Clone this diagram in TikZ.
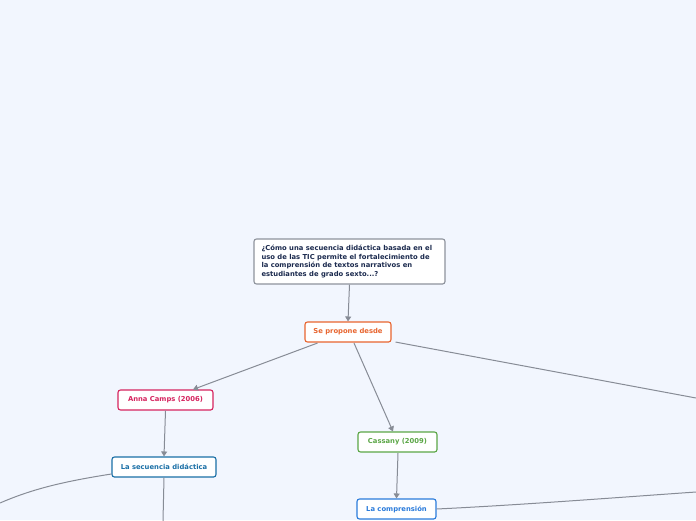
\documentclass[tikz,border=0pt]{standalone}
\usepackage{fontspec}
\setmainfont{DejaVu Sans}
\usetikzlibrary{arrows.meta,calc}
\definecolor{bg}{HTML}{F2F6FE}
\definecolor{edge}{HTML}{878C96}
\definecolor{qborder}{HTML}{8E939C}
\definecolor{qtext}{HTML}{1B2A4E}
\definecolor{orangec}{HTML}{E8652F}
\definecolor{pinkc}{HTML}{D6245F}
\definecolor{blueA}{HTML}{1A6FA6}
\definecolor{greenc}{HTML}{5BA646}
\definecolor{blueB}{HTML}{2A7BDB}
\tikzset{
  box/.style={draw, rounded corners=2.5pt, fill=white, line width=1.1pt, inner sep=0pt,
    font=\bfseries\fontsize{6.8}{8}\selectfont, minimum height=20pt},
  conn/.style={draw=edge, line width=1pt},
  arr/.style={conn, -{Triangle[width=6pt,length=5pt]}},
}
\begin{document}
\begin{tikzpicture}[x=1pt,y=-1pt]
\useasboundingbox[fill=bg] (0,0) rectangle (696,520);
\node[box, draw=qborder, text=qtext, minimum width=191pt, minimum height=45pt, align=left,
  font=\bfseries\fontsize{6.8}{8.6}\selectfont] (q) at (349.5,261.5)
  {\parbox{176pt}{¿Cómo una secuencia didáctica basada en el\\uso de las TIC permite el fortalecimiento de\\la comprensión de textos narrativos en\\estudiantes de grado sexto...?}};
\node[box, draw=orangec, text=orangec, minimum width=86pt] (se) at (348,332) {Se propone desde};
\node[box, draw=pinkc, text=pinkc, minimum width=95pt] (anna) at (165.5,400) {Anna Camps (2006)};
\node[box, draw=blueA, text=blueA, minimum width=104pt] (sec) at (164,467) {La secuencia didáctica};
\node[box, draw=greenc, text=greenc, minimum width=79pt] (cas) at (397.5,442) {Cassany (2009)};
\node[box, draw=blueB, text=blueB, minimum width=79pt] (comp) at (396.5,509) {La comprensión};
\coordinate (r1) at (696,398);
\coordinate (l1) at (0,503);
\coordinate (b1) at (163,521);
\coordinate (r2) at (696,492);
\draw[arr] (q.south) -- (se.north);
\draw[arr] ($(se.south west)+(13,0.5)$) -- ($(anna.north)+(27.5,0)$);
\draw[arr] ($(se.south)+(6,0.5)$) -- ($(cas.north)+(-4.5,0)$);
\draw[conn] ($(se.south east)+(4,-0.5)$) -- (r1);
\draw[arr] (anna.south) -- (sec.north);
\draw[arr] ($(cas.south)+(0.5,0.5)$) -- (comp.north);
\draw[conn] (sec.west |- 0,474) .. controls (60,482) and (30,490) .. (l1);
\draw[conn] (sec.south) -- (b1);
\draw[conn] (comp.east) .. controls (520,505) and (610,498) .. (r2);
\end{tikzpicture}
\end{document}
